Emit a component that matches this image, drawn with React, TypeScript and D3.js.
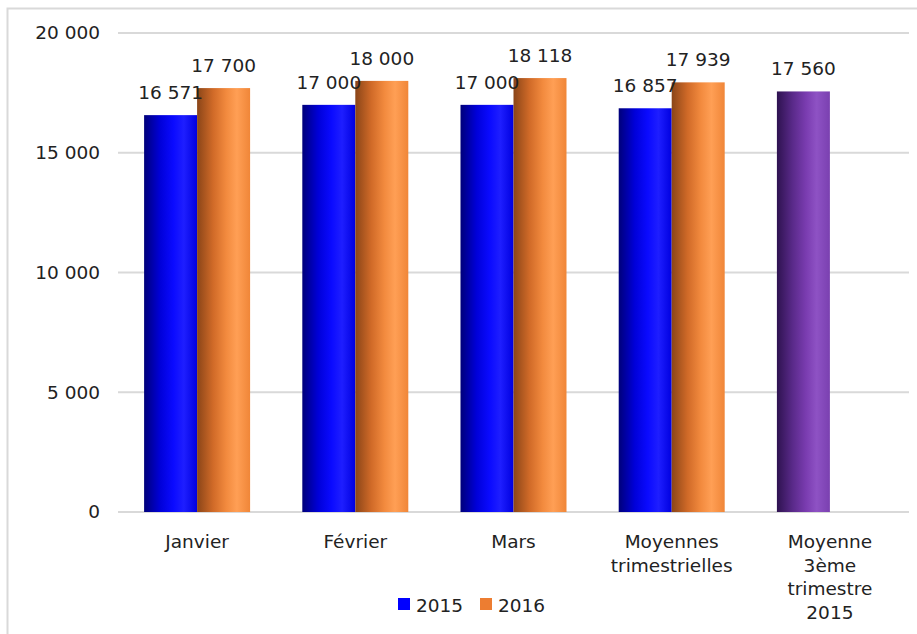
import React, { useEffect, useRef } from "react";
import * as d3 from "d3";

const categories = ["Janvier", "Février", "Mars", "Moyennes\ntrimestrielles", "Moyenne\n3ème\ntrimestre\n2015"];
const values2015 = [16571, 17000, 17000, 16857, 17560];
const values2016 = [17700, 18000, 18118, 17939, null];
const yTicks = [0, 5000, 10000, 15000, 20000];
const seriesNames = ["2015", "2016"];

const fmt = (v: number) => d3.format(",")(v).replace(/,/g, " ");

export default function App() {
  const ref = useRef<SVGSVGElement>(null);

  useEffect(() => {
    const svg = d3.select(ref.current);
    svg.selectAll("*").remove();

    const W = 917, H = 634;
    const margin = { top: 33, right: 8, bottom: 122, left: 118 };
    const font = "'DejaVu Sans', Verdana, sans-serif";
    const fs = 18.5;
    const txt = "#222";

    // gradients for the cylinder look
    const defs = svg.append("defs");
    const grads: { [k: string]: string[] } = {
      blue: ["#00007a", "#0000d8", "#0a0aff", "#1e1eff", "#0000e0"],
      orange: ["#8a4518", "#d06a28", "#f28a3e", "#ff9f55", "#f08638"],
      purple: ["#2e1250", "#5a2a8a", "#7a3cb0", "#8e52c4", "#7a40b0"],
    };
    Object.entries(grads).forEach(([k, stops]) => {
      const g = defs.append("linearGradient").attr("id", "g_" + k).attr("x1", 0).attr("x2", 1).attr("y1", 0).attr("y2", 0);
      const offs = [0, 0.3, 0.55, 0.75, 1];
      stops.forEach((c, i) => g.append("stop").attr("offset", offs[i]).attr("stop-color", c));
    });

    // outer border
    svg.append("rect").attr("x", 7.5).attr("y", 8.5).attr("width", W).attr("height", H)
      .attr("fill", "none").attr("stroke", "#d9d9d9").attr("stroke-width", 2);

    const x = d3.scaleBand().domain(categories).range([margin.left, W - margin.right]).paddingInner(0.33).paddingOuter(0.165);
    const x_sub = d3.scaleBand().domain(seriesNames).range([0, x.bandwidth()]);
    const y = d3.scaleLinear().domain([0, 20000]).range([H - margin.bottom, margin.top]);

    // gridlines
    svg.append("g").selectAll("line").data(yTicks).join("line")
      .attr("x1", margin.left).attr("x2", W - margin.right)
      .attr("y1", d => y(d)).attr("y2", d => y(d))
      .attr("stroke", "#d9d9d9").attr("stroke-width", 2);

    // y labels
    svg.append("g").selectAll("text").data(yTicks).join("text")
      .attr("x", 100).attr("y", d => y(d)).attr("dy", "0.35em")
      .attr("text-anchor", "end").attr("font-family", font).attr("font-size", fs).attr("fill", txt)
      .text(d => fmt(d));

    // bars
    const bars: { cat: string; s: string; v: number; color: string }[] = [];
    categories.forEach((c, i) => {
      const last = i === categories.length - 1;
      bars.push({ cat: c, s: "2015", v: values2015[i], color: last ? "purple" : "blue" });
      if (values2016[i] != null) bars.push({ cat: c, s: "2016", v: values2016[i] as number, color: "orange" });
    });

    const bg = svg.append("g");
    bg.selectAll("rect").data(bars).join("rect")
      .attr("x", d => (x(d.cat) as number) + (x_sub(d.s) as number))
      .attr("width", x_sub.bandwidth())
      .attr("y", d => y(d.v))
      .attr("height", d => y(0) - y(d.v))
      .attr("fill", d => `url(#g_${d.color})`);

    bg.selectAll("text").data(bars).join("text")
      .attr("x", d => (x(d.cat) as number) + (x_sub(d.s) as number) + x_sub.bandwidth() / 2)
      .attr("y", d => y(d.v) - 16)
      .attr("text-anchor", "middle").attr("font-family", font).attr("font-size", fs).attr("fill", txt)
      .text(d => fmt(d.v));

    // category labels
    const cl = svg.append("g").selectAll("text").data(categories).join("text")
      .attr("y", 548)
      .attr("text-anchor", "middle").attr("font-family", font).attr("font-size", fs).attr("fill", txt);
    cl.each(function (d) {
      const t = d3.select(this);
      d.split("\n").forEach((line, i) => {
        t.append("tspan").attr("x", (x(d) as number) + x.bandwidth() / 2).attr("dy", i === 0 ? 0 : 23.5).text(line);
      });
    });

    // legend
    const leg = svg.append("g");
    const legItems = [{ n: "2015", c: "#0000ff", x0: 398 }, { n: "2016", c: "#ed7d31", x0: 480 }];
    leg.selectAll("rect").data(legItems).join("rect")
      .attr("x", d => d.x0).attr("y", 598).attr("width", 12).attr("height", 12).attr("fill", d => d.c);
    leg.selectAll("text").data(legItems).join("text")
      .attr("x", d => d.x0 + 18).attr("y", 612).attr("font-family", font).attr("font-size", fs).attr("fill", txt)
      .text(d => d.n);
  }, []);

  return (
    <svg ref={ref} width={917} height={634} style={{ position: "absolute", left: 0, top: 0, background: "#fff" }} />
  );
}
